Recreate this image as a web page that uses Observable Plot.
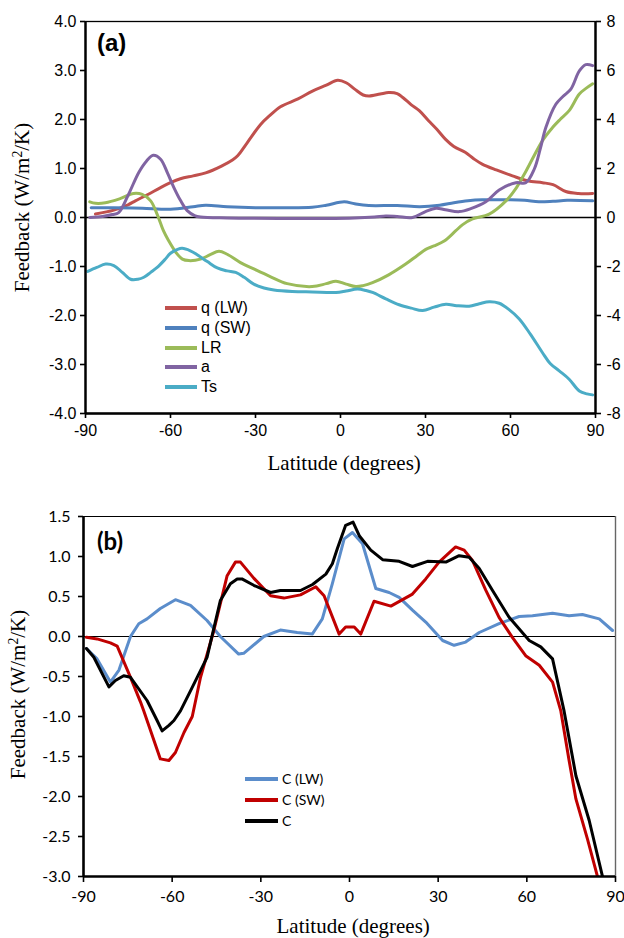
<!DOCTYPE html>
<html><head><meta charset="utf-8">
<script src="https://cdn.jsdelivr.net/npm/d3@7"></script>
<script src="https://cdn.jsdelivr.net/npm/@observablehq/plot@0.6"></script>
<style>
body{margin:0;background:#fff;}
#wrap{position:relative;width:624px;height:938px;overflow:hidden;background:#fff;}
.panel{position:absolute;left:0;}
.t{position:absolute;white-space:nowrap;color:#000;line-height:1;}
.serif{font-family:"Liberation Serif","Times New Roman",serif;font-size:21px;}
.tag{font-family:"Liberation Sans",Arial,sans-serif;font-weight:bold;font-size:24px;}
.leg{position:absolute;}
.leg .row{position:absolute;left:0;height:20px;}
.leg .sw{position:absolute;left:0;top:8px;height:4px;}
.leg .lab{position:absolute;top:0;line-height:20px;white-space:nowrap;}
</style>
</head><body>
<div id="wrap"></div>
<script>
// ---------- Panel (a) data ----------
const xTicks = [-90, -60, -30, 0, 30, 60, 90];
const yTicksA = [-4, -3, -2, -1, 0, 1, 2, 3, 4];
const yTicksRightA = [-8, -6, -4, -2, 0, 2, 4, 6, 8];
const yTicksB = [-3, -2.5, -2, -1.5, -1, -0.5, 0, 0.5, 1, 1.5];

const seriesA = ["q (LW)", "q (SW)", "LR", "a", "Ts"];
const colorsA = ["#C0504D", "#4F81BD", "#9BBB59", "#8064A2", "#4BACC6"];

const qLW_lat = [-86.5,-80,-75,-72.4,-68,-63.5,-60,-56.5,-52,-47.6,-42,-38,-36.3,-33,-28.2,-25,-21.2,-15,-9.9,-5,-1,2,5,8,10.1,14,17,20,22,25,27.8,31,34,37,40,44,47,50,55,60.7,66,71.3,75,79.5,84,89];
const qLW_val = [0.07,0.15,0.26,0.34,0.47,0.61,0.71,0.79,0.85,0.91,1.05,1.18,1.26,1.52,1.9,2.08,2.26,2.42,2.58,2.7,2.8,2.75,2.62,2.5,2.48,2.52,2.55,2.53,2.45,2.3,2.18,1.98,1.8,1.6,1.45,1.33,1.2,1.09,0.97,0.85,0.75,0.71,0.67,0.53,0.49,0.49];

const qSW_lat = [-88,-80,-70,-60,-52,-47.6,-40,-30,-20,-10,-5,1.3,5,10,20,28,35,40,45,50,60,65,70,75,80,89];
const qSW_val = [0.2,0.2,0.19,0.17,0.22,0.25,0.22,0.2,0.2,0.21,0.25,0.32,0.28,0.245,0.245,0.22,0.25,0.3,0.34,0.36,0.36,0.35,0.32,0.33,0.35,0.34];

const LR_lat = [-88.5,-86.5,-83,-78,-73,-70,-67,-64.6,-62.5,-60.7,-58,-55.8,-53.5,-49.4,-46,-42.9,-40,-35.3,-30.6,-25,-18.8,-10,-5,-1.6,2,5.4,8,11.3,17,23,27,30.1,33,36.6,40.7,43,46.6,52.5,58.4,62,65.5,71.3,74.9,77.5,80.7,84.3,87,89];
const LR_val = [0.32,0.29,0.3,0.38,0.49,0.47,0.34,0.05,-0.27,-0.47,-0.72,-0.85,-0.88,-0.85,-0.76,-0.69,-0.75,-0.92,-1.05,-1.2,-1.35,-1.41,-1.35,-1.3,-1.36,-1.41,-1.39,-1.33,-1.17,-0.95,-0.78,-0.65,-0.58,-0.48,-0.27,-0.15,-0.03,0.07,0.34,0.6,0.95,1.57,1.84,2.0,2.18,2.52,2.65,2.73];

const alb_lat = [-88.5,-84,-80.5,-78.3,-75,-71.2,-68.5,-66.1,-63.5,-61,-58.8,-56.5,-54.1,-51.5,-49.4,-40,-20,-5,5,12,16,20,25.4,30,33.7,37,41.9,46,51.3,56,61.9,65.4,68.4,70.5,72.5,76,78.5,81.3,84.3,86.6,89];
const alb_val = [0,0.02,0.06,0.1,0.45,0.92,1.15,1.27,1.19,0.9,0.61,0.35,0.14,0.04,0.01,-0.01,-0.02,-0.02,-0.01,0.01,0.03,0.02,0.0,0.12,0.19,0.16,0.12,0.18,0.32,0.56,0.71,0.71,0.99,1.4,1.84,2.31,2.47,2.62,2.99,3.12,3.1];

const Ts_lat = [-89.2,-86,-82.9,-80,-77,-74.1,-71.5,-69.4,-67,-64.7,-62,-60,-57.5,-55.9,-53,-50.6,-47,-43.5,-40,-37,-34,-30.6,-27,-23.5,-17,-9.9,-1.6,2,6,9,11.3,16,20.7,25,29,33,37.2,41,45.4,49,52.5,56,59.5,63.1,67,71.3,74,77.2,80.7,84.3,87,89];
const Ts_val = [-1.1,-1.02,-0.95,-0.98,-1.12,-1.26,-1.26,-1.22,-1.12,-1.02,-0.86,-0.73,-0.65,-0.63,-0.68,-0.76,-0.9,-1.03,-1.09,-1.12,-1.22,-1.36,-1.44,-1.48,-1.51,-1.52,-1.53,-1.5,-1.46,-1.49,-1.53,-1.66,-1.78,-1.85,-1.9,-1.83,-1.77,-1.8,-1.81,-1.76,-1.72,-1.75,-1.88,-2.07,-2.38,-2.76,-2.98,-3.13,-3.3,-3.54,-3.6,-3.62];

// ---------- Panel (b) data ----------
const seriesB = ["C (LW)", "C (SW)", "C"];
const colorsB = ["#5B8DCB", "#C00000", "#000000"];

const CLW_lat = [-89,-85.4,-80.9,-78,-74.1,-71.3,-68.5,-64,-58.9,-53.8,-48.2,-43.7,-37.5,-35.8,-29,-23.4,-17.7,-12.6,-9.2,-5.8,-1.8,1,4.4,8.9,13.4,16.8,21.3,25.8,31.5,35.4,39.3,43.9,50.6,57.4,61.9,68.7,74.3,78.8,84.5,89];
const CLW_val = [-0.15,-0.28,-0.57,-0.42,0,0.16,0.22,0.35,0.46,0.39,0.2,0,-0.22,-0.21,0,0.08,0.05,0.03,0.22,0.66,1.22,1.3,1.16,0.6,0.55,0.49,0.33,0.18,-0.05,-0.11,-0.07,0.05,0.16,0.25,0.26,0.29,0.26,0.275,0.22,0.075];

const CSW_lat = [-89,-85.4,-80.9,-78.6,-74.1,-70.7,-69.6,-64,-61.1,-58.9,-56,-53.2,-50.4,-45.9,-41.4,-38.6,-36.9,-32.4,-26.7,-22.2,-16.6,-12.5,-11.4,-8.6,-3.5,-1.3,1.6,3.8,8.3,14,21.3,25.8,30.3,35.9,38.8,41.6,46.1,50.6,55.1,59.6,64.2,68.7,71.5,74.3,76.6,80.5,83.9];
const CSW_val = [-0.01,-0.03,-0.08,-0.12,-0.51,-0.82,-0.93,-1.53,-1.55,-1.45,-1.2,-1.0,-0.51,0.075,0.76,0.93,0.93,0.73,0.51,0.48,0.52,0.6,0.62,0.51,0.03,0.12,0.12,0.03,0.44,0.38,0.53,0.72,0.93,1.12,1.08,0.95,0.58,0.24,-0.01,-0.24,-0.36,-0.57,-0.93,-1.55,-2.03,-2.53,-3.0];

const C_lat = [-89,-86.5,-81.4,-79.2,-76.4,-74.1,-68.5,-65.1,-63.4,-61.1,-59.4,-57.2,-53.8,-48.2,-43.7,-40.3,-38,-36.4,-32.4,-26.7,-23.4,-16.6,-12.5,-8,-5.8,-4.1,-1.3,1.2,3.3,7.2,11.2,16.8,21.3,26.4,32.6,37.1,40.5,43.9,48.4,54,60.8,64.7,68.7,72.6,76.6,81.1,85.6];
const C_val = [-0.15,-0.26,-0.63,-0.55,-0.49,-0.51,-0.8,-1.05,-1.18,-1.11,-1.05,-0.93,-0.68,-0.26,0.45,0.66,0.72,0.72,0.64,0.55,0.575,0.575,0.65,0.78,0.91,1.1,1.39,1.43,1.26,1.08,0.96,0.94,0.875,0.94,0.93,1.01,0.99,0.85,0.575,0.24,-0.05,-0.13,-0.28,-0.93,-1.74,-2.3,-3.0];

const rows = (lat, val, s) => lat.map((x, i) => ({lat: x, v: val[i], s}));
const dataA = [
  rows(qLW_lat, qLW_val, seriesA[0]),
  rows(qSW_lat, qSW_val, seriesA[1]),
  rows(LR_lat, LR_val, seriesA[2]),
  rows(alb_lat, alb_val, seriesA[3]),
  rows(Ts_lat, Ts_val, seriesA[4])
];
const dataB = [
  rows(CLW_lat, CLW_val, seriesB[0]),
  rows(CSW_lat, CSW_val, seriesB[1]),
  rows(C_lat, C_val, seriesB[2])
];

const wrap = document.getElementById("wrap");
const fmt1 = d => d.toFixed(1);
const fmtInt = d => String(d);

// ---------- Panel (a) ----------
const plotA = Plot.plot({
  width: 624, height: 475,
  marginLeft: 85, marginRight: 29, marginTop: 21, marginBottom: 62,
  x: {domain: [-90, 90]},
  y: {domain: [-4, 4]},
  style: {fontFamily: "'Liberation Sans', Arial, sans-serif", fontSize: "16px", color: "#000", background: "transparent", overflow: "visible"},
  marks: [
    Plot.frame({stroke: "#000", strokeWidth: 1.3}),
    Plot.ruleY([0], {stroke: "#000", strokeWidth: 1.6}),
    ...dataA.map((d, i) => Plot.line(d, {x: "lat", y: "v", stroke: colorsA[i], strokeWidth: 3, curve: "catmull-rom"})),
    Plot.ruleX([-90], {stroke: "#000", strokeWidth: 2.4}),
    Plot.ruleX([90], {stroke: "#000", strokeWidth: 2.4}),
    Plot.ruleY([-4], {stroke: "#000", strokeWidth: 2.4}),
    Plot.axisY({ticks: yTicksA, tickFormat: fmt1, tickSize: 5, tickPadding: 4, strokeWidth: 1.6, label: null}),
    Plot.axisY({anchor: "right", ticks: yTicksRightA.map(v => v / 2), tickFormat: d => fmtInt(d * 2), tickSize: 5, tickPadding: 6, strokeWidth: 1.6, label: null}),
    Plot.axisX({ticks: xTicks, tickFormat: fmtInt, tickSize: 5, tickPadding: 6, strokeWidth: 1.6, label: null})
  ]
});
plotA.classList.add("panel");
plotA.style.top = "0px";
wrap.appendChild(plotA);

// ---------- Panel (b) ----------
const plotB = Plot.plot({
  width: 624, height: 463,
  marginLeft: 83, marginRight: 9, marginTop: 41, marginBottom: 62,
  x: {domain: [-90, 90]},
  y: {domain: [-3, 1.5]},
  style: {fontFamily: "Lato, 'Liberation Sans', sans-serif", fontSize: "16px", color: "#000", background: "transparent", overflow: "visible"},
  marks: [
    Plot.frame({stroke: "#000", strokeWidth: 1}),
    Plot.ruleX([90], {stroke: "#666", strokeWidth: 1.4}),
    Plot.ruleY([0], {stroke: "#000", strokeWidth: 1}),
    ...dataB.map((d, i) => Plot.line(d, {x: "lat", y: "v", stroke: colorsB[i], strokeWidth: 3, clip: true})),
    Plot.ruleX([-90], {stroke: "#000", strokeWidth: 2.6}),
    Plot.ruleY([-3], {stroke: "#000", strokeWidth: 2.6}),
    Plot.axisY({ticks: yTicksB, tickFormat: fmt1, tickSize: 5, tickPadding: 8, strokeWidth: 1.6, label: null}),
    Plot.axisX({ticks: xTicks, tickFormat: fmtInt, tickSize: 6, tickPadding: 8, strokeWidth: 1.6, label: null})
  ]
});
plotB.classList.add("panel");
plotB.style.top = "475px";
wrap.appendChild(plotB);

// ---------- Text overlays ----------
function addText(html, cls, css) {
  const el = document.createElement("div");
  el.className = "t " + cls;
  el.innerHTML = html;
  Object.assign(el.style, css);
  wrap.appendChild(el);
  return el;
}
const yTitle = "Feedback (W/m<sup style=\"font-size:0.65em;vertical-align:0.55em;line-height:0\">2</sup>/K)";
// rotated y titles
for (const [cx, cy] of [[23, 207], [19, 694]]) {
  const el = addText(yTitle, "serif", {});
  const w = el.offsetWidth, h = el.offsetHeight;
  el.style.left = (cx - w / 2) + "px";
  el.style.top = (cy - h / 2) + "px";
  el.style.transform = "rotate(-90deg)";
}
for (const [cx, cy] of [[344, 463], [353, 926]]) {
  const el = addText("Latitude (degrees)", "serif", {});
  const w = el.offsetWidth, h = el.offsetHeight;
  el.style.left = (cx - w / 2) + "px";
  el.style.top = (cy - h / 2) + "px";
}
addText("(a)", "tag", {left: "97px", top: "31px"});
addText("(b)", "tag", {left: "97px", top: "529px", fontFamily: "Lato, 'Liberation Sans', sans-serif"});

// ---------- Legends ----------
function legend(names, colors, left, top, step, lineW, gap, font, size) {
  const box = document.createElement("div");
  box.className = "leg";
  box.style.left = left + "px";
  box.style.top = top + "px";
  names.forEach((n, i) => {
    const r = document.createElement("div");
    r.className = "row";
    r.style.top = (i * step) + "px";
    r.innerHTML = `<div class="sw" style="width:${lineW}px;background:${colors[i]}"></div><div class="lab" style="left:${lineW + gap}px;font-family:${font};font-size:${size}px">${n}</div>`;
    box.appendChild(r);
  });
  wrap.appendChild(box);
}
legend(seriesA, colorsA, 165, 298, 19.8, 32, 4, "'Liberation Sans', Arial, sans-serif", 16);
legend(seriesB, colorsB, 245, 769, 21.2, 33, 4, "Lato, 'Liberation Sans', sans-serif", 14);
</script>
</body></html>
